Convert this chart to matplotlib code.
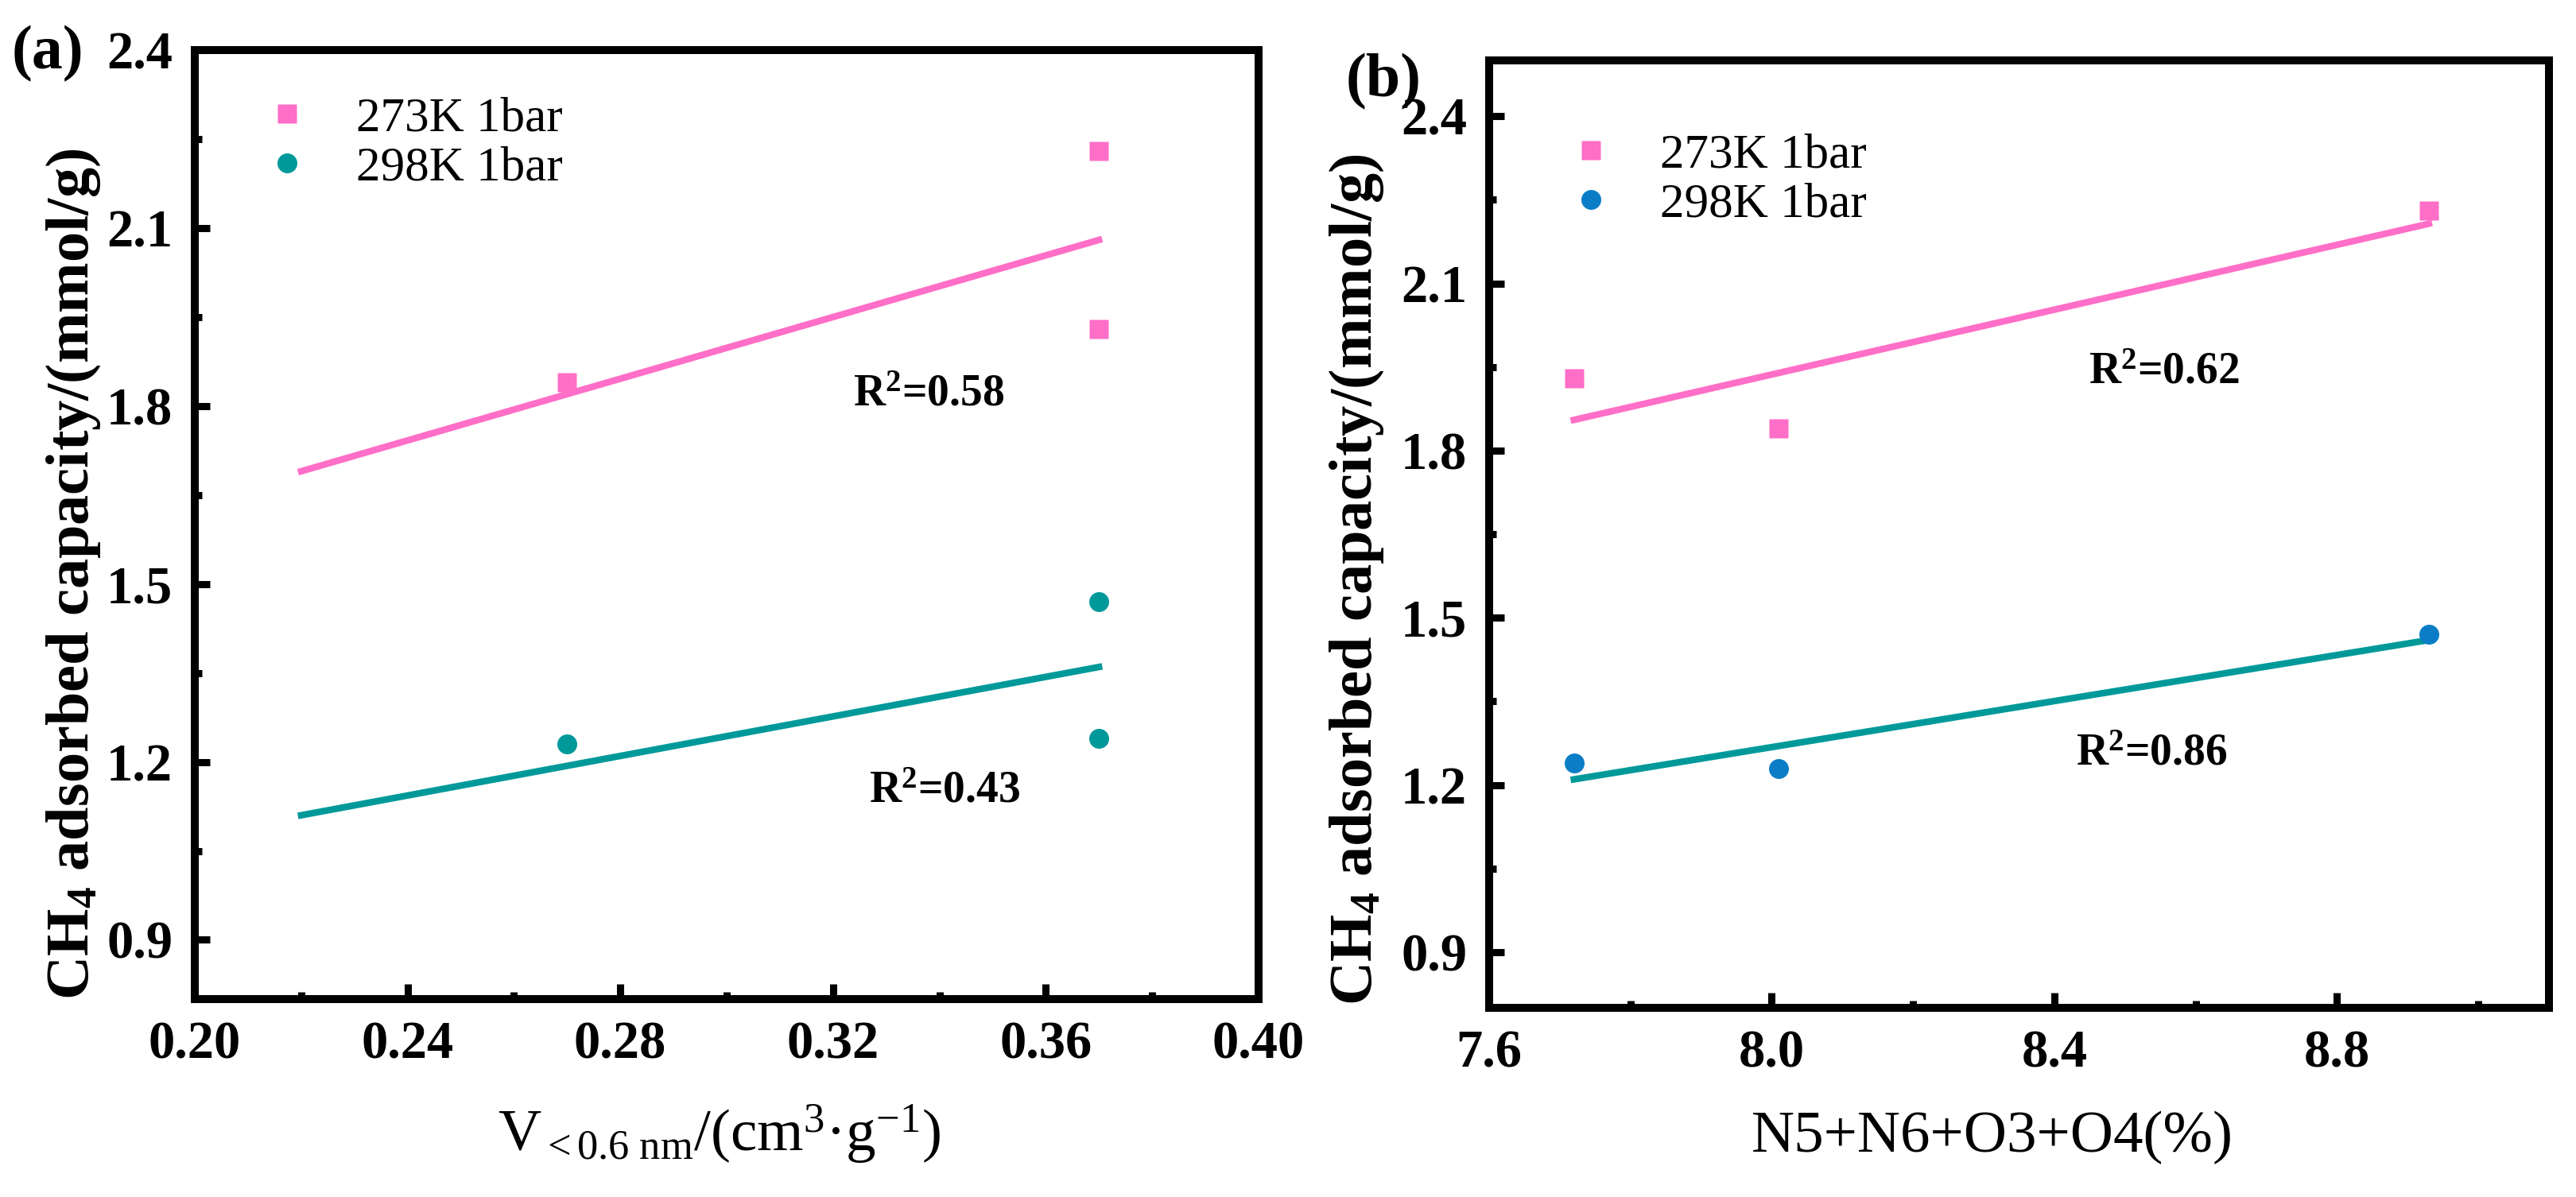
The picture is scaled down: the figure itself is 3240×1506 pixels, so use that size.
import numpy as np
import matplotlib
matplotlib.use('Agg')
from matplotlib import pyplot as plt
from matplotlib.ticker import MultipleLocator

plt.rcParams['font.family'] = ['Liberation Serif', 'DejaVu Serif']
plt.rcParams['mathtext.fontset'] = 'custom'
plt.rcParams['mathtext.rm'] = 'Liberation Serif'
plt.rcParams['mathtext.it'] = 'Liberation Serif:italic'
plt.rcParams['mathtext.bf'] = 'Liberation Serif:bold'

# Panel (a): micropore volume vs CH4 uptake
x_a = [0.27, 0.37, 0.37]
y_a_273 = [1.84, 2.23, 1.93]
y_a_298 = [1.23, 1.47, 1.24]
fit_a_x = [0.22, 0.37]
fit_a_273 = [1.69, 2.08]
fit_a_298 = [1.11, 1.36]
r2_a = ['0.58', '0.43']

# Panel (b): N5+N6+O3+O4 content vs CH4 uptake
x_b = [7.72, 8.01, 8.93]
y_b_273 = [1.93, 1.84, 2.23]
y_b_298 = [1.24, 1.23, 1.47]
fit_b_x = [7.72, 8.93]
fit_b_273 = [1.855, 2.207]
fit_b_298 = [1.21, 1.46]
r2_b = ['0.62', '0.86']

labels = ['273K 1bar', '298K 1bar']

pink = '#FF6EC7'
teal = '#00999A'
blue = '#0A7DC6'

fig = plt.figure(figsize=(32.41, 15.06), dpi=100)
ax_a = fig.add_axes([0.0756, 0.1653, 0.4128, 0.7928])
ax_b = fig.add_axes([0.5779, 0.158, 0.4113, 0.7915])


def style_axes(ax):
    for s in ax.spines.values():
        s.set_linewidth(7.2)
    ax.tick_params(which='both', direction='in', top=False, right=False,
                   width=6.5, pad=20)
    ax.tick_params(which='major', length=14, labelsize=48)
    ax.tick_params(which='minor', length=6.5)
    for lab in ax.get_xticklabels() + ax.get_yticklabels():
        lab.set_fontweight('bold')


ylab = r'CH$_\mathbf{4}$ adsorbed capacity/(mmol/g)'

# ---- panel a
ax_a.plot(fit_a_x, fit_a_273, color=pink, lw=6, zorder=2)
ax_a.plot(fit_a_x, fit_a_298, color=teal, lw=6, zorder=2)
ax_a.plot(x_a, y_a_273, 's', color=pink, ms=17, mec='none', label=labels[0], zorder=3)
ax_a.plot(x_a, y_a_298, 'o', color=teal, ms=18, mec='none', label=labels[1], zorder=3)
ax_a.set_xlim(0.2, 0.4)
ax_a.set_ylim(0.8, 2.4)
ax_a.set_xticks(np.arange(0.2, 0.401, 0.04))
ax_a.set_xticklabels(['%.2f' % v for v in np.arange(0.2, 0.401, 0.04)])
ax_a.xaxis.set_minor_locator(MultipleLocator(0.02))
ax_a.set_yticks(np.arange(0.9, 2.41, 0.3))
ax_a.set_yticklabels(['%.1f' % v for v in np.arange(0.9, 2.41, 0.3)])
ax_a.yaxis.set_minor_locator(MultipleLocator(0.15))
style_axes(ax_a)
ax_a.set_ylabel(ylab, fontsize=55, fontweight='bold')
ax_a.yaxis.set_label_coords(-0.087, 0.448)
ax_a.set_xlabel(r'V$_{\mathregular{<0.6\ nm}}$/(cm$^{\mathregular{3}}$·g$^{\mathregular{-1}}$)',
                fontsize=54)
ax_a.xaxis.set_label_coords(0.493, -0.109)
ax_a.text(0.338, 1.819, r'R$^\mathbf{2}$=' + r2_a[0], fontsize=40, fontweight='bold',
          ha='center', va='center')
ax_a.text(0.341, 1.15, r'R$^\mathbf{2}$=' + r2_a[1], fontsize=40, fontweight='bold',
          ha='center', va='center')
ax_a.legend(loc='upper left', bbox_to_anchor=(0.064, 0.951), frameon=False,
            fontsize=44, handlelength=1.0, handletextpad=0.92, labelspacing=0.1,
            borderpad=0, borderaxespad=0, numpoints=1)

# ---- panel b
ax_b.plot(fit_b_x, fit_b_273, color=pink, lw=6, zorder=2)
ax_b.plot(fit_b_x, fit_b_298, color=teal, lw=6, zorder=2)
ax_b.plot(x_b, y_b_273, 's', color=pink, ms=17, mec='none', label=labels[0], zorder=3)
ax_b.plot(x_b, y_b_298, 'o', color=blue, ms=18, mec='none', label=labels[1], zorder=3)
ax_b.set_xlim(7.6, 9.1)
ax_b.set_ylim(0.8, 2.5)
ax_b.set_xticks([7.6, 8.0, 8.4, 8.8])
ax_b.set_xticklabels(['7.6', '8.0', '8.4', '8.8'])
ax_b.xaxis.set_minor_locator(MultipleLocator(0.2))
ax_b.set_yticks(np.arange(0.9, 2.41, 0.3))
ax_b.set_yticklabels(['%.1f' % v for v in np.arange(0.9, 2.41, 0.3)])
ax_b.yaxis.set_minor_locator(MultipleLocator(0.15))
style_axes(ax_b)
ax_b.set_ylabel(ylab, fontsize=55, fontweight='bold')
ax_b.yaxis.set_label_coords(-0.0975, 0.452)
ax_b.set_xlabel('N5+N6+O3+O4(%)', fontsize=54)
ax_b.xaxis.set_label_coords(0.475, -0.109)
ax_b.text(8.555, 1.941, r'R$^\mathbf{2}$=' + r2_b[0], fontsize=40, fontweight='bold',
          ha='center', va='center')
ax_b.text(8.537, 1.256, r'R$^\mathbf{2}$=' + r2_b[1], fontsize=40, fontweight='bold',
          ha='center', va='center')
ax_b.legend(loc='upper left', bbox_to_anchor=(0.073, 0.923), frameon=False,
            fontsize=44, handlelength=1.0, handletextpad=0.92, labelspacing=0.1,
            borderpad=0, borderaxespad=0, numpoints=1)

fig.text(0.0185, 0.955, '(a)', fontsize=56, fontweight='bold', ha='center', va='center')
fig.text(0.537, 0.932, '(b)', fontsize=56, fontweight='bold', ha='center', va='center')

fig.savefig('out.png', dpi=100)
